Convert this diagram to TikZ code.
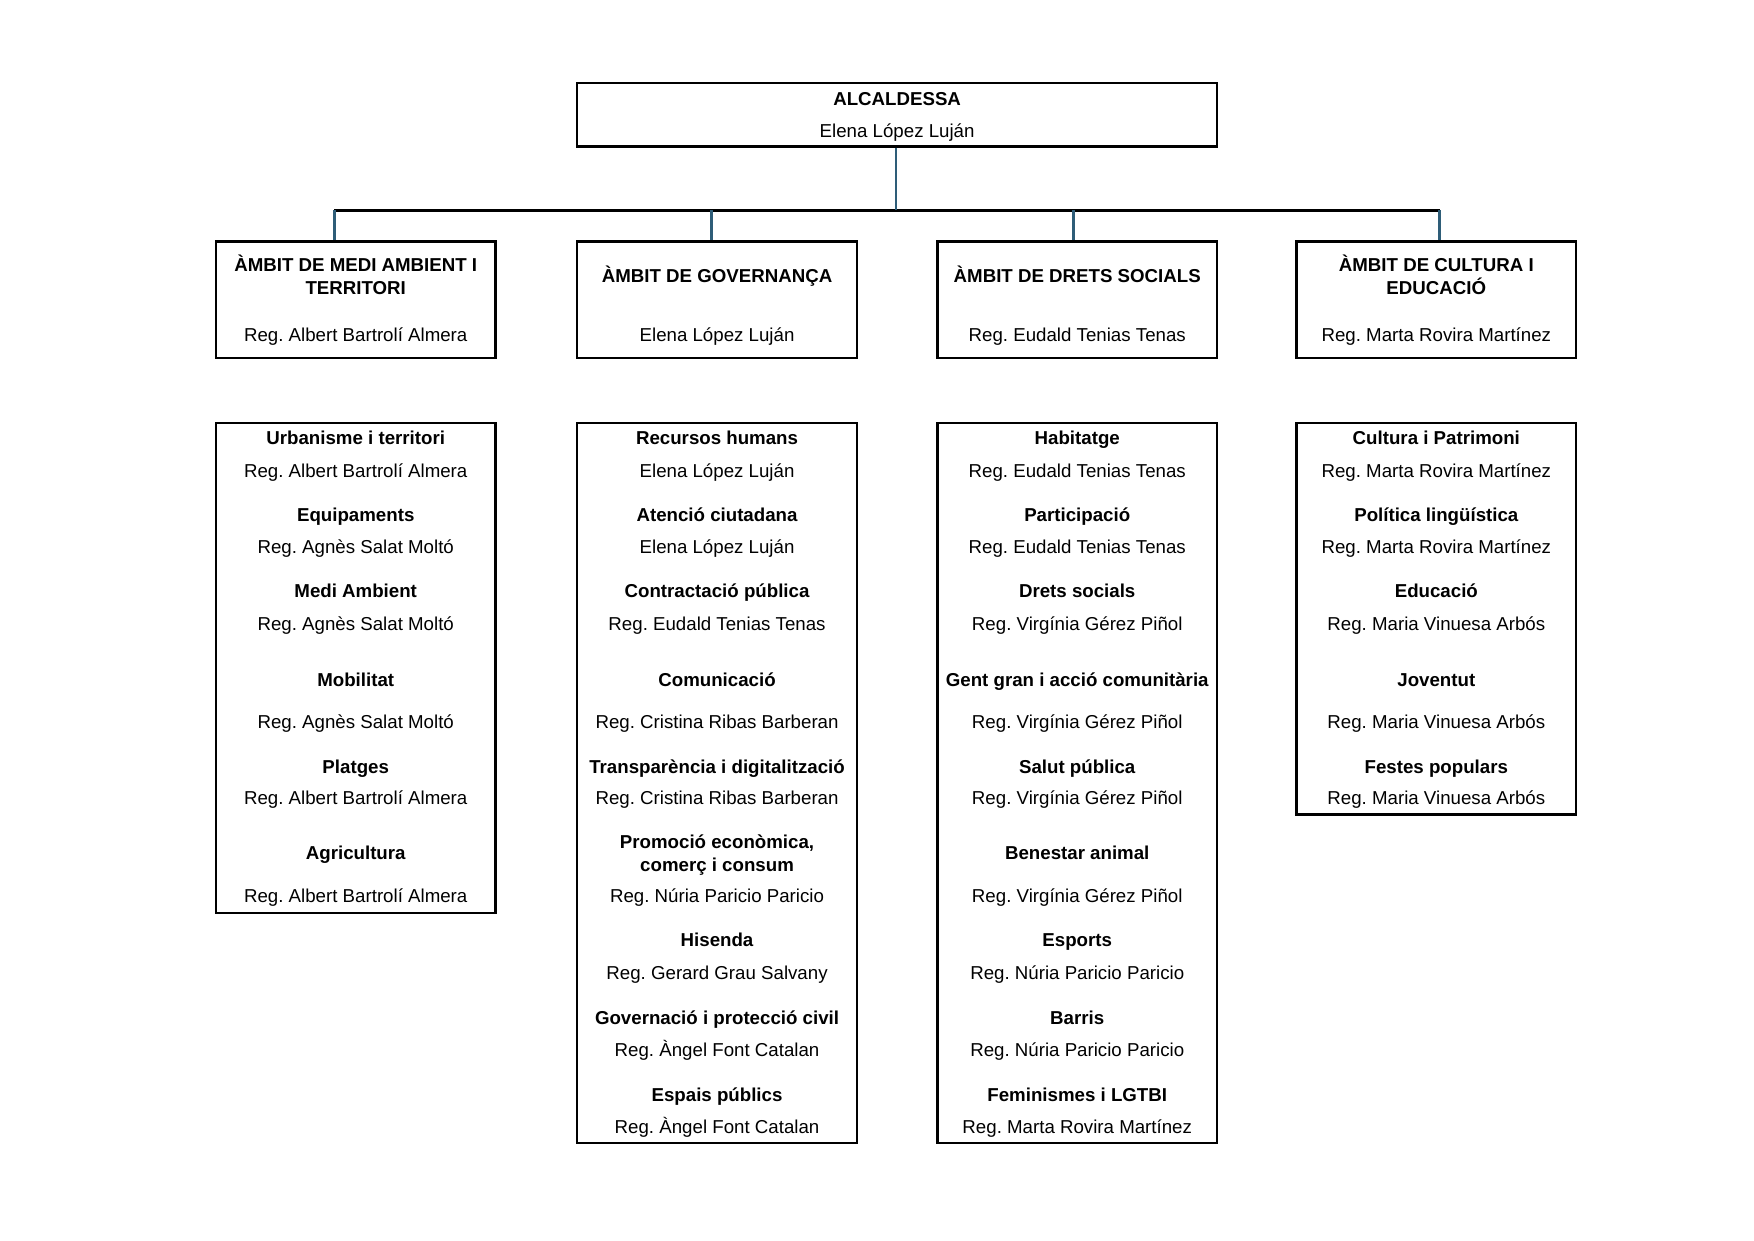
\documentclass[tikz,border=0pt]{standalone}
\usepackage{fontspec}
\setmainfont{Liberation Sans}
\usetikzlibrary{positioning}
\definecolor{LinkBlue}{RGB}{46,93,120}
\newcommand{\px}{0.018941cm}
\frenchspacing

\begin{document}
\begin{tikzpicture}[
    x=0.018941cm, y=-0.018941cm,
    box/.style={rectangle, draw, line width=1.1pt, inner sep=0pt, minimum width=250*\px},
    item/.style={font=\fontsize{9}{11}\selectfont\bfseries, anchor=base, inner sep=0pt},
    reg/.style={font=\fontsize{9}{11}\selectfont, anchor=base, inner sep=0pt},
    lnk/.style={line width=1.4pt, color=LinkBlue},
    bar/.style={line width=1.3pt, color=black},
]
\useasboundingbox (0,0) rectangle (1568,1109);

% alcaldessa
\node[box, minimum width=572*\px, minimum height=57*\px] (alc) at (802,102.5) {};
\node[item] (alc-t) at (802,94.5) {ALCALDESSA};
\node[reg] (alc-n) at (802,122.5) {Elena López Luján};

% ambits
\node[box, minimum height=104*\px] (amb1) at (318,268) {};
\node[box, minimum height=104*\px] (amb2) at (641,268) {};
\node[box, minimum height=104*\px] (amb3) at (963,268) {};
\node[box, minimum height=104*\px] (amb4) at (1284,268) {};

\node[item] (amb1-t) at (318,242.5) {ÀMBIT DE MEDI AMBIENT I};
\node[item] (amb1-u) at (318,263.5) {TERRITORI};
\node[reg] (amb1-n) at (318,305.5) {Reg. Albert Bartrolí Almera};
\node[item] (amb2-t) at (641,252.5) {ÀMBIT DE GOVERNANÇA};
\node[reg] (amb2-n) at (641,305.5) {Elena López Luján};
\node[item] (amb3-t) at (963,252.5) {ÀMBIT DE DRETS SOCIALS};
\node[reg] (amb3-n) at (963,305.5) {Reg. Eudald Tenias Tenas};
\node[item] (amb4-t) at (1284,242.5) {ÀMBIT DE CULTURA I};
\node[item] (amb4-u) at (1284,263.5) {EDUCACIÓ};
\node[reg] (amb4-n) at (1284,305.5) {Reg. Marta Rovira Martínez};

% connectors
\coordinate (j0) at (801,188);
\coordinate (j1) at (299,188);
\coordinate (j2) at (636,188);
\coordinate (j3) at (960,188);
\coordinate (j4) at (1287,188);
\draw[bar] (j1) -- (j4);
\draw[lnk] (alc.south -| j0) -- (j0);
\foreach \i in {1,...,4}{
  \draw[lnk] (j\i) -- (j\i |- amb\i.north);
}

% arees
\node[box, anchor=north, minimum height=438*\px] (sec1) at (318,377) {};
\node[box, anchor=north, minimum height=644*\px] (sec2) at (641,377) {};
\node[box, anchor=north, minimum height=644*\px] (sec3) at (963,377) {};
\node[box, anchor=north, minimum height=350*\px] (sec4) at (1284,377) {};

\foreach \y/\s/\txt in {
  391/item/Urbanisme i territori, 420/reg/Reg. Albert Bartrolí Almera,
  460/item/Equipaments, 488/reg/Reg. Agnès Salat Moltó,
  528/item/Medi Ambient, 557/reg/Reg. Agnès Salat Moltó,
  607/item/Mobilitat, 645/reg/Reg. Agnès Salat Moltó,
  685/item/Platges, 713/reg/Reg. Albert Bartrolí Almera,
  762/item/Agricultura, 800/reg/Reg. Albert Bartrolí Almera}{
  \node[style=\s] (c1-\y) at (318,\y+6.5) {\txt};
}

\foreach \y/\s/\txt in {
  391/item/Recursos humans, 420/reg/Elena López Luján,
  460/item/Atenció ciutadana, 488/reg/Elena López Luján,
  528/item/Contractació pública, 557/reg/Reg. Eudald Tenias Tenas,
  607/item/Comunicació, 645/reg/Reg. Cristina Ribas Barberan,
  685/item/Transparència i digitalització, 713/reg/Reg. Cristina Ribas Barberan,
  752/item/{Promoció econòmica,}, 773/item/comerç i consum, 800/reg/Reg. Núria Paricio Paricio,
  840/item/Hisenda, 869/reg/Reg. Gerard Grau Salvany,
  909/item/Governació i protecció civil, 938/reg/Reg. Àngel Font Catalan,
  978/item/Espais públics, 1007/reg/Reg. Àngel Font Catalan}{
  \node[style=\s] (c2-\y) at (641,\y+6.5) {\txt};
}

\foreach \y/\s/\txt in {
  391/item/Habitatge, 420/reg/Reg. Eudald Tenias Tenas,
  460/item/Participació, 488/reg/Reg. Eudald Tenias Tenas,
  528/item/Drets socials, 557/reg/Reg. Virgínia Gérez Piñol,
  607/item/Gent gran i acció comunitària, 645/reg/Reg. Virgínia Gérez Piñol,
  685/item/Salut pública, 713/reg/Reg. Virgínia Gérez Piñol,
  762/item/Benestar animal, 800/reg/Reg. Virgínia Gérez Piñol,
  840/item/Esports, 869/reg/Reg. Núria Paricio Paricio,
  909/item/Barris, 938/reg/Reg. Núria Paricio Paricio,
  978/item/Feminismes i LGTBI, 1007/reg/Reg. Marta Rovira Martínez}{
  \node[style=\s] (c3-\y) at (963,\y+6.5) {\txt};
}

\foreach \y/\s/\txt in {
  391/item/Cultura i Patrimoni, 420/reg/Reg. Marta Rovira Martínez,
  460/item/Política lingüística, 488/reg/Reg. Marta Rovira Martínez,
  528/item/Educació, 557/reg/Reg. Maria Vinuesa Arbós,
  607/item/Joventut, 645/reg/Reg. Maria Vinuesa Arbós,
  685/item/Festes populars, 713/reg/Reg. Maria Vinuesa Arbós}{
  \node[style=\s] (c4-\y) at (1284,\y+6.5) {\txt};
}
\end{tikzpicture}
\end{document}
